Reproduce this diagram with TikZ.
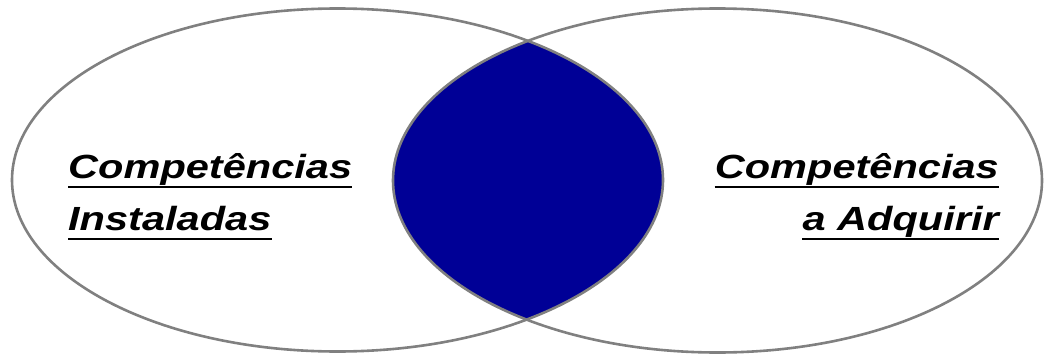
\documentclass[tikz,border=0pt]{standalone}
\usepackage{fontspec}
\setmainfont{Liberation Sans}
\definecolor{lensblue}{RGB}{0,0,150}
\definecolor{ringgray}{RGB}{128,128,128}
\begin{document}
\begin{tikzpicture}[x=1pt,y=-1pt,
  ring/.style={draw=ringgray,line width=2.6pt},
  label/.style={inner sep=0pt,font=\fontsize{33.5}{40}\selectfont\bfseries\itshape},
  uline/.style={line width=2.4pt,black}]
\useasboundingbox (0,0) rectangle (1045,356);
\begin{scope}
  \clip (337.5,180) ellipse [x radius=325.5, y radius=171.5];
  \fill[lensblue] (717.5,180.5) ellipse [x radius=324.5, y radius=172];
\end{scope}
\draw[ring] (337.5,180) ellipse [x radius=325.5, y radius=171.5];
\draw[ring] (717.5,180.5) ellipse [x radius=324.5, y radius=172];
\node[label,anchor=base west] (l1) at (68,178) {\scalebox{1.24}[1]{Competências}};
\node[label,anchor=base west] (l2) at (68,230) {\scalebox{1.24}[1]{Instaladas}};
\node[label,anchor=base east] (r1) at (999,178) {\scalebox{1.24}[1]{Competências}};
\node[label,anchor=base east] (r2) at (999,230) {\scalebox{1.24}[1]{a Adquirir}};
\foreach \n in {l1,l2,r1,r2}
  \draw[uline] ([yshift=-9pt]\n.base west) -- ([yshift=-9pt]\n.base east);
\end{tikzpicture}
\end{document}
